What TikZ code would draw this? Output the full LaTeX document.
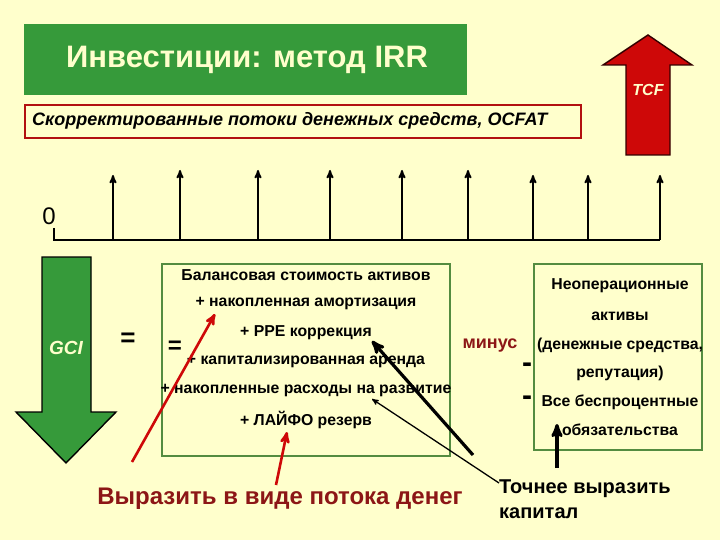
\documentclass[tikz,border=0pt]{standalone}
\usepackage{fontspec}
\setmainfont{Liberation Sans}
\usetikzlibrary{arrows,positioning}
\definecolor{cream}{RGB}{255,255,204}
\definecolor{titlegreen}{RGB}{54,154,58}
\definecolor{framegreen}{RGB}{84,140,64}
\definecolor{darkred}{RGB}{140,22,22}
\definecolor{tcfred}{RGB}{206,8,8}
\definecolor{linered}{RGB}{178,16,16}
\tikzset{
    %Define standard arrow tip
    >=stealth',
    %Define style for the rows in the boxes
    rowtext/.style={
           font=\bfseries\fontsize{15.8}{17}\selectfont,
           inner sep=0pt},
    %Define style for the green framed boxes
    greenframe/.style={
           rectangle,
           draw=framegreen,
           line width=1.6pt,
           inner sep=0pt},
    %Define style for the big block arrows
    blockarrow/.style={
           line width=1.4pt,
           line join=miter},
    % Define cash flow arrow style
    flow/.style={
           ->,
           line width=1.8pt},
    % Define pointer styles
    redpil/.style={
           ->,
           draw=tcfred,
           line width=2.6pt},
    blackpil/.style={
           ->,
           line width=3.2pt},
}

\begin{document}
\begin{tikzpicture}[x=1pt,y=-1pt]
  \useasboundingbox[fill=cream] (0,0) rectangle (720,540);
  % title and header
  \node[rectangle,fill=titlegreen,minimum width=443pt,minimum height=71pt,inner sep=0pt,anchor=north west] (title) at (24,24) {};
  \node[text=cream,font=\bfseries\fontsize{31}{33}\selectfont] (titletext) at (247,60) {Инвестиции: метод IRR};
  \node[rectangle,draw=linered,line width=2pt,fill=cream,minimum width=556pt,minimum height=33pt,inner sep=0pt,anchor=north west] (ocfat) at (24,104) {};
  \node[anchor=west,font=\bfseries\itshape\fontsize{18}{20}\selectfont,inner sep=0pt] (ocfattext) at (32,121) {Скорректированные потоки денежных средств, OCFAT};
  % TCF arrow
  \draw[blockarrow,fill=tcfred,draw=black!80!red] (648,35) -- (692,65) -- (670,65) -- (670,155) -- (626,155) -- (626,65) -- (603,65) -- cycle;
  \node[text=cream,font=\bfseries\itshape\fontsize{16}{18}\selectfont] (tcf) at (648,90) {TCF};
  % time axis
  \node[font=\fontsize{24}{26}\selectfont,inner sep=0pt] (zero) at (49,216) {0};
  \coordinate (axisstart) at (54,228);
  \coordinate (axisend) at (660,240);
  \draw[line width=2.6pt] (axisstart) |- (axisend);
  \foreach \xx/\yy [count=\i] in {113/175,180/170,258/170,330/170,402/170,468/170,533/175,588/175,660/175}{
    \coordinate (base\i) at (\xx,240);
    \coordinate (top\i) at (\xx,\yy);
    \draw[flow] (base\i) -- (top\i);
  }
  % GCI arrow
  \draw[blockarrow,fill=titlegreen] (42,257) -- (91,257) -- (91,412) -- (116,412) -- (66,463) -- (16,412) -- (42,412) -- cycle;
  \node[text=cream,font=\bfseries\itshape\fontsize{19}{21}\selectfont] (gci) at (66,348) {GCI};
  \node[font=\bfseries\fontsize{26}{28}\selectfont] (eqone) at (128,340) {=};
  \node[font=\bfseries\fontsize{24}{26}\selectfont] (eqtwo) at (175,347) {=};
  % book value box
  \node[greenframe,minimum width=288pt,minimum height=192pt] (book) at (306,360) {};
  \foreach \t [count=\i] in {Балансовая стоимость активов,+ накопленная амортизация,+ PPE коррекция,+ капитализированная аренда,+ накопленные расходы на развитие,+ ЛАЙФО резерв}
    \node[rowtext] (row\i) at (306,275+29*\i-29) {\t};
  % non-operating box
  \node[greenframe,minimum width=168pt,minimum height=186pt] (nonop) at (618,357) {};
  \foreach \t/\yy [count=\i] in {Неоперационные/286,активы/316,{(денежные средства,}/345,репутация)/373,Все беспроцентные/402,обязательства/430}
    \node[rowtext] (nrow\i) at (620,\yy) {\t};
  \node[text=darkred,font=\bfseries\fontsize{18}{20}\selectfont] (minus) at (490,346) {минус};
  \node[font=\bfseries\fontsize{30}{32}\selectfont] (dashone) at (527,368) {-};
  \node[font=\bfseries\fontsize{30}{32}\selectfont] (dashtwo) at (527,401) {-};
  % captions
  \node[text=darkred,font=\bfseries\fontsize{24}{26}\selectfont] (money) at (280,499) {Выразить в виде потока денег};
  \node[anchor=north west,align=left,inner sep=0pt,font=\bfseries\fontsize{20}{25}\selectfont] (capital) at (499,480) {Точнее выразить\\капитал};
  % pointers
  \coordinate (redstartone) at (132,462);
  \coordinate (redendone) at (215,314);
  \coordinate (redstarttwo) at (276,485);
  \coordinate (redendtwo) at (287,432);
  \coordinate (blackstartone) at (473,455);
  \coordinate (blackendone) at (372,341);
  \coordinate (blackstarttwo) at (499,483);
  \coordinate (blackendtwo) at (372,399);
  \coordinate (blackstartthree) at (557,468);
  \coordinate (blackendthree) at (557,424);
  \draw[redpil] (redstartone) -- (redendone);
  \draw[redpil] (redstarttwo) -- (redendtwo);
  \draw[blackpil] (blackstartone) -- (blackendone);
  \draw[->,line width=1.3pt] (blackstarttwo) -- (blackendtwo);
  \draw[blackpil] (blackstartthree) -- (blackendthree);
\end{tikzpicture}
\end{document}
